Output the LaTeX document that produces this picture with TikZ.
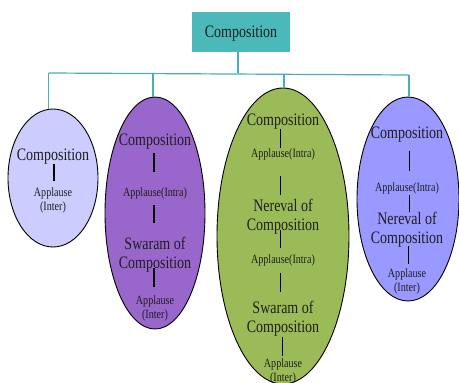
\documentclass[tikz,border=0pt]{standalone}
\usepackage{fontspec}
\setmainfont{Liberation Serif}
\newfontfamily\cf[FakeStretch=0.8]{Liberation Serif}
\usetikzlibrary{shapes.geometric}
\definecolor{teal1}{HTML}{4BB9B9}
\definecolor{teal2}{HTML}{4AAFAF}
\definecolor{ecA}{HTML}{CCCCFF}
\definecolor{ecB}{HTML}{9966CC}
\definecolor{ecC}{HTML}{9BBB59}
\definecolor{ecD}{HTML}{9999FF}
\definecolor{txt}{HTML}{1E1E1E}
\begin{document}
\begin{tikzpicture}[x=1pt,y=-1pt,
  big/.style={inner sep=0pt,text=txt,font=\cf\fontsize{17.5}{19}\selectfont,align=center,yshift=-2pt},
  small/.style={inner sep=0pt,text=txt,font=\cf\fontsize{12.6}{14}\selectfont,align=center,yshift=-1.5pt},
  oval/.style={ellipse,draw=black,line width=0.9pt,inner sep=0pt},
  conn/.style={draw=teal2,line width=1.2pt},
  bar/.style={draw=black,line width=1.1pt}]
\useasboundingbox (0,0) rectangle (459,383);
% top box
\node[fill=teal1,minimum width=98pt,minimum height=40pt,inner sep=0pt] (t) at (241,32) {};
\node[big] (tt) at (241,32) {Composition};
% ellipses
\node[oval,fill=ecA,minimum width=90pt,minimum height=138pt] (e1) at (53,178) {};
\node[oval,fill=ecB,minimum width=100pt,minimum height=232pt] (e2) at (155,213) {};
\node[oval,fill=ecC,minimum width=132pt,minimum height=296pt] (e3) at (283,236) {};
\node[oval,fill=ecD,minimum width=102pt,minimum height=204pt] (e4) at (408,199) {};
% connectors
\coordinate (j) at (238,73.3);
\coordinate (b1) at (48.7,73);
\coordinate (b2) at (153,73.6);
\coordinate (b3) at (284,74.3);
\coordinate (b4) at (409,75);
\draw[conn] (t.south -| j) -- (j);
\draw[conn] (b1) -- (b4);
\draw[conn] (b1) -- (b1 |- e1.north);
\draw[conn] (b2) -- (b2 |- e2.north);
\draw[conn] (b3) -- (b3 |- e3.north);
\draw[conn] (b4) -- (b4 |- e4.north);
% ellipse 1
\node[big] (a1) at (53,155) {Composition};
\node[small] (a2) at (53,199) {Applause\\(Inter)};
\draw[bar] (54,164) -- (54,181);
% ellipse 2
\node[big] (c1) at (155,140) {Composition};
\node[small] (c2) at (155,192) {Applause(Intra)};
\node[big] (c3) at (155,252.5) {Swaram of\\Composition};
\node[small] (c4) at (155,307) {Applause\\(Inter)};
\draw[bar] (154,153) -- (154,172);
\draw[bar] (154,205) -- (154,223);
\draw[bar] (154,268) -- (154,287);
% ellipse 3
\node[big] (d1) at (283,120) {Composition};
\node[small] (d2) at (283,153) {Applause(Intra)};
\node[big] (d3) at (283,214.5) {Nereval of\\Composition};
\node[small] (d4) at (283,259) {Applause(Intra)};
\node[big] (d5) at (283,317) {Swaram of\\Composition};
\node[small] (d6) at (283,370) {Applause\\(Inter)};
\draw[bar] (280.5,129) -- (280.5,148);
\draw[bar] (280.5,176) -- (280.5,195);
\draw[bar] (280.5,230) -- (280.5,248);
\draw[bar] (280.5,273) -- (280.5,292);
\draw[bar] (282.5,337) -- (282.5,356);
% ellipse 4
\node[big] (f1) at (407,133) {Composition};
\node[small] (f2) at (407,187) {Applause(Intra)};
\node[big] (f3) at (407,227.5) {Nereval of\\Composition};
\node[small] (f4) at (407,280) {Applause\\(Inter)};
\draw[bar] (409.5,151) -- (409.5,171);
\draw[bar] (409.5,195) -- (409.5,212);
\draw[bar] (408.5,246) -- (408.5,264);
\end{tikzpicture}
\end{document}
